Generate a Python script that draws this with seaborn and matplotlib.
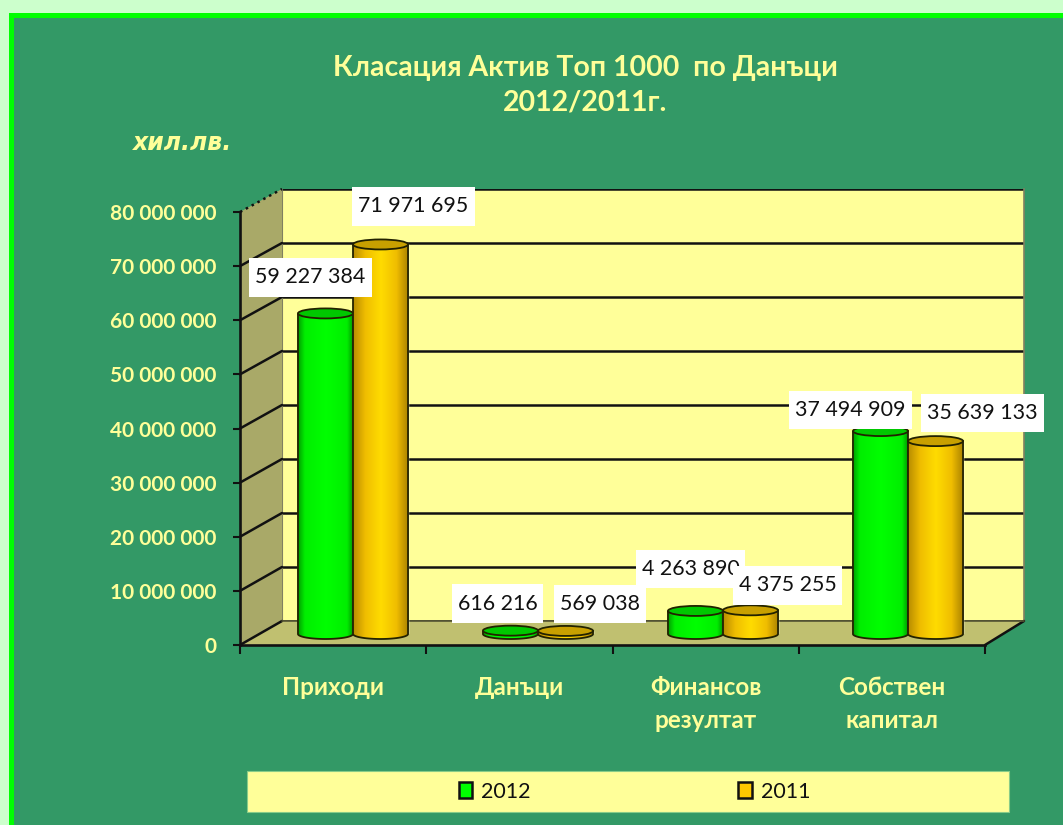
import numpy as np
import pandas as pd
import matplotlib
matplotlib.use("Agg")
import matplotlib.pyplot as plt
import seaborn as sns
from matplotlib.colors import LinearSegmentedColormap
from matplotlib.lines import Line2D
from matplotlib.patches import Ellipse, PathPatch, Polygon, Rectangle
from matplotlib.path import Path
from matplotlib.transforms import IdentityTransform

# ---- data ----
categories = ["Приходи", "Данъци", "Финансов\nрезултат", "Собствен\nкапитал"]
years = ["2012", "2011"]
values_2012 = [59227384, 616216, 4263890, 37494909]
values_2011 = [71971695, 569038, 4375255, 35639133]
y_ticks = [0, 10000000, 20000000, 30000000, 40000000, 50000000, 60000000, 70000000, 80000000]
title_text = "Класация Актив Топ 1000  по Данъци\n2012/2011г."
unit_text = "хил.лв."

# ---- style ----
W, H = 1063, 825
PAGE = "#CCFFCC"; FRAME = "#00FF00"; PANEL = "#339966"
CREAM = "#FFFF99"; SIDE = "#A9A968"; FLOOR = "#C0C070"; INK = "#111111"
BAR_COLORS = {"2012": "#00FF00", "2011": "#FFC800"}
TOP_COLORS = {"2012": "#00C800", "2011": "#C8A000"}
RAMPS = {"2012": [(0, "#00A000"), (0.12, "#00EE00"), (0.5, "#00FF00"), (0.88, "#00EE00"), (1, "#009000")],
         "2011": [(0, "#B88C00"), (0.22, "#F0BE00"), (0.5, "#FFDC00"), (0.78, "#F0BE00"), (1, "#A88000")]}
FONT = ["Lato", "Open Sans", "DejaVu Sans"]

sns.set_theme(style="white")
plt.rcParams["font.family"] = FONT

def fx(x): return x / W
def fy(y): return 1 - y / H
def rect(l, t, r, b): return [fx(l), fy(b), (r - l) / W, (b - t) / H]

fig = plt.figure(figsize=(W / 100, H / 100), dpi=100, facecolor=PAGE)
fig.add_artist(Rectangle((fx(10.5), fy(900)), 1.2, (900 - 14.5) / H, transform=fig.transFigure,
                         fc=PANEL, ec=FRAME, lw=3.6, zorder=-2))

ax_back = fig.add_axes(rect(282, 189, 1024, 621), zorder=0, facecolor=CREAM)
ax_front = fig.add_axes(rect(240, 212, 985, 645), zorder=1, facecolor="none")
ax_bar = fig.add_axes(rect(260.5, 201, 1000.5, 634), zorder=2, facecolor="none")

xlim = (-0.5, len(categories) - 0.5)
ylim = (y_ticks[0], y_ticks[-1])
for a in (ax_back, ax_front, ax_bar):
    a.set_xlim(xlim); a.set_ylim(ylim)

# back wall
ax_back.set_xticks([]); ax_back.set_yticks(y_ticks); ax_back.set_yticklabels([])
ax_back.tick_params(left=False)
ax_back.grid(axis="y", color=INK, lw=1.8)
ax_back.set_axisbelow(True)
for s in ax_back.spines.values():
    s.set_visible(False)
ax_back.spines["right"].set_visible(True); ax_back.spines["right"].set_color("#808060")
ax_back.spines["right"].set_linewidth(1.2)
ax_back.spines["left"].set_visible(True); ax_back.spines["left"].set_color("#808060")
ax_back.spines["left"].set_linewidth(0.8)

# side wall and floor, derived from the two axes' scales
F = lambda x, y: ax_front.transData.transform((x, y))
B = lambda x, y: ax_back.transData.transform((x, y))
ident = IdentityTransform()
ax_back.add_patch(Polygon([F(xlim[0], ylim[0]), F(xlim[0], ylim[1]), B(xlim[0], ylim[1]), B(xlim[0], ylim[0])],
                          transform=ident, fc=SIDE, ec="none", clip_on=False, zorder=3))
ax_back.add_patch(Polygon([F(xlim[0], 0), B(xlim[0], 0), B(xlim[1], 0), F(xlim[1], 0)],
                          transform=ident, fc=FLOOR, ec="none", clip_on=False, zorder=3))
for v in y_ticks:
    p, q = F(xlim[0], v), B(xlim[0], v)
    ax_back.add_line(Line2D([p[0], q[0]], [p[1], q[1]], transform=ident, color=INK, lw=1.8,
                            clip_on=False, zorder=4, ls=":" if v == y_ticks[-1] else "-"))
p, q = F(xlim[1], 0), B(xlim[1], 0)
ax_back.add_line(Line2D([p[0], q[0]], [p[1], q[1]], transform=ident, color=INK, lw=1.8, clip_on=False, zorder=4))
ax_back.add_line(Line2D([B(xlim[0], 0)[0], B(xlim[1], 0)[0]], [B(xlim[0], 0)[1]] * 2, transform=ident,
                        color="#555533", lw=1.2, clip_on=False, zorder=4))

# front axes: ticks and labels
for s in ("top", "right"):
    ax_front.spines[s].set_visible(False)
for s in ("left", "bottom"):
    ax_front.spines[s].set_color(INK); ax_front.spines[s].set_linewidth(1.9)
positions = np.arange(len(categories))
ax_front.set_xticks(np.arange(len(categories) + 1) - 0.5)
ax_front.set_xticklabels([])
ax_front.set_xticks(positions, minor=True)
ax_front.set_xticklabels(categories, minor=True, fontsize=17.5, fontweight="bold", color=CREAM, linespacing=1.5)
ax_front.tick_params(axis="x", which="major", length=6.5, width=1.5, color=INK, bottom=True)
ax_front.tick_params(axis="x", which="minor", length=0, pad=22.5)
ax_front.set_yticks(y_ticks)
ax_front.set_yticklabels([f"{v:,}".replace(",", " ") for v in y_ticks], fontsize=15,
                         fontweight="bold", color=CREAM)
ax_front.tick_params(axis="y", length=5, width=1.5, color=INK, left=True, pad=12)

# bars
df = pd.DataFrame({
    "category": categories * 2,
    "year": [years[0]] * len(categories) + [years[1]] * len(categories),
    "value": values_2012 + values_2011,
})
sns.barplot(data=df, x="category", y="value", hue="year", order=categories, hue_order=years,
            palette=BAR_COLORS, width=0.595, gap=0, legend=False, ax=ax_bar, saturation=1)
ax_bar.set_xlim(xlim); ax_bar.set_ylim(ylim)
ax_bar.axis("off")

ell_h = 10 / 433 * (ylim[1] - ylim[0])  # cylinder ellipse height in data units
label_offsets = {"2012": [(-15, 36), (-13, 27), (-5, 42), (-30, 21)],
                 "2011": [(33, 38), (34, 27), (37, 25), (47, 28)]}

for z, (year, container) in enumerate(zip(years, ax_bar.containers)):
    cmap = LinearSegmentedColormap.from_list(year, RAMPS[year])
    for i, bar in enumerate(container):
        x0, w, h = bar.get_x(), bar.get_width(), bar.get_height()
        bar.set_zorder(2 + z)
        n = 40
        t = np.linspace(np.pi, 2 * np.pi, n)
        verts = [(x0, h)] + list(zip(x0 + w / 2 + w / 2 * np.cos(t), ell_h / 2 * np.sin(t))) + [(x0 + w, h), (x0, h)]
        path = Path(verts)
        body = PathPatch(path, fc="none", ec="#222200", lw=1.3, zorder=2.2 + z, clip_on=False)
        ax_bar.add_patch(body)
        img = ax_bar.imshow(np.linspace(0, 1, 128)[None, :], cmap=cmap, aspect="auto", zorder=2.1 + z,
                            extent=(x0, x0 + w, -ell_h, h), interpolation="bilinear")
        img.set_clip_box(fig.bbox)
        img.set_clip_path(body)
        ax_bar.add_patch(Ellipse((x0 + w / 2, h), w, ell_h, fc=TOP_COLORS[year], ec="#222200", lw=1.3,
                                 zorder=2.3 + z, clip_on=False))
        dx, dy = label_offsets[year][i]
        ax_bar.annotate(f"{int(h):,}".replace(",", " "), xy=(x0 + w / 2, h), xytext=(dx * 0.72, dy * 0.72),
                        textcoords="offset points", ha="center", va="center", fontsize=15.4, color=INK,
                        zorder=10 + z + i * 0.01,
                        bbox=dict(boxstyle="square,pad=0.28", fc="white", ec="none", mutation_aspect=1.55))
ax_bar.set_xlim(xlim); ax_bar.set_ylim(ylim)

# titles
fig.text(fx(585), fy(85), title_text, ha="center", va="center", fontsize=20.5, fontweight="bold",
         color=CREAM, linespacing=1.42)
fig.text(fx(183), fy(143), unit_text, ha="center", va="center", fontsize=17, fontweight="bold",
         style="italic", color=CREAM, family="DejaVu Sans")

# legend
fig.add_artist(Rectangle((fx(247), fy(812)), 762 / W, 41 / H, transform=fig.transFigure,
                         fc=CREAM, ec="#88CC88", lw=0.8, zorder=-1))
handles = [Rectangle((0, 0), 1, 1, fc=BAR_COLORS[y], ec="#111111", lw=1.8) for y in years]
fig.legend(handles, years, loc="center", bbox_to_anchor=(fx(634.5), fy(791.5)), ncol=2, frameon=False,
           fontsize=15.5, handlelength=0.62, handleheight=0.8, handletextpad=0.42, columnspacing=9.66,
           labelcolor=INK)

fig.savefig("out.png", dpi=100, facecolor=PAGE)
